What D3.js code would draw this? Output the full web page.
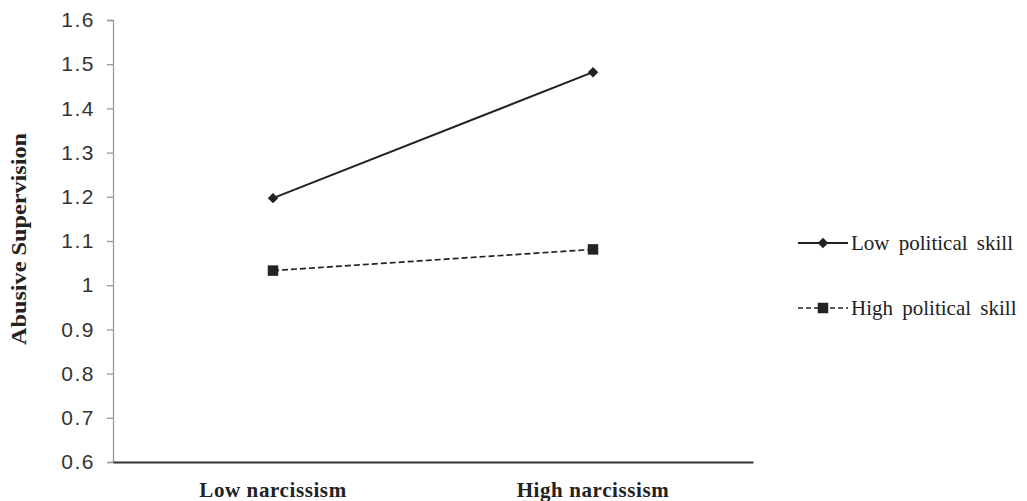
<!DOCTYPE html>
<html>
<head>
<meta charset="utf-8">
<script src="https://cdn.jsdelivr.net/npm/d3@7"></script>
<style>
    body { margin: 0; background: #fff; }
    svg { display: block; }
</style>
</head>
<body>
<div id="chart"></div>
<script>
// данные графика
const categories = ['Low narcissism', 'High narcissism'];
const lowSkill = [1.197, 1.482];
const highSkill = [1.033, 1.081];
const seriesNames = ['Low political skill', 'High political skill'];
const yTicks = [0.6, 0.7, 0.8, 0.9, 1, 1.1, 1.2, 1.3, 1.4, 1.5, 1.6];

const width = 1027, height = 501;
const margin = { left: 113, top: 20, right: 274, bottom: 39 };

const svg = d3.select('#chart').append('svg')
    .attr('width', width)
    .attr('height', height);

const x = d3.scaleBand()
    .domain(categories)
    .range([margin.left, width - margin.right]);

const y = d3.scaleLinear()
    .domain([0.6, 1.6])
    .range([height - margin.bottom, margin.top]);

// ось y
const yAxis = svg.append('g')
    .attr('transform', `translate(${margin.left},0)`)
    .call(d3.axisLeft(y).tickValues(yTicks).tickSize(6).tickPadding(12)
        .tickFormat(d => d3.format('')(+d.toFixed(1))));
yAxis.select('.domain').attr('stroke', '#999').attr('stroke-width', 1.3);
yAxis.selectAll('.tick line').attr('stroke', '#999').attr('stroke-width', 1.3);
yAxis.selectAll('.tick text')
    .attr('fill', '#333')
    .style('font-family', 'Liberation Sans, Arial, sans-serif')
    .style('font-size', '21px')
    .style('letter-spacing', '1.5px');

// ось x
const xAxis = svg.append('g')
    .attr('transform', `translate(0,${height - margin.bottom})`)
    .call(d3.axisBottom(x).tickSize(0).tickPadding(20));
xAxis.select('.domain').attr('stroke', '#333').attr('stroke-width', 2);
xAxis.selectAll('.tick text')
    .attr('fill', '#222')
    .style('font-family', 'Liberation Serif, Times New Roman, serif')
    .style('font-weight', 'bold')
    .style('font-size', '21px')
    .style('letter-spacing', '0.6px');

// подпись оси y
svg.append('text')
    .attr('transform', `translate(26,239) rotate(-90)`)
    .attr('text-anchor', 'middle')
    .attr('fill', '#222')
    .attr('textLength', 212)
    .attr('lengthAdjust', 'spacingAndGlyphs')
    .style('font-family', 'Liberation Serif, Times New Roman, serif')
    .style('font-weight', 'bold')
    .style('font-size', '21px')
    .text('Abusive Supervision');

const cx = d => x(d) + x.bandwidth() / 2;
const line = d3.line()
    .x((d, i) => cx(categories[i]))
    .y(d => y(d));

const diamond = d3.symbol().type(d3.symbolSquare).size(55);
const square = d3.symbol().type(d3.symbolSquare).size(110);

// линия Low political skill
svg.append('path')
    .datum(lowSkill)
    .attr('fill', 'none')
    .attr('stroke', '#222')
    .attr('stroke-width', 2)
    .attr('d', line);
svg.selectAll('.mk1')
    .data(lowSkill)
    .enter()
    .append('path')
    .attr('class', 'mk1')
    .attr('transform', (d, i) => `translate(${cx(categories[i])},${y(d)}) rotate(45)`)
    .attr('d', diamond)
    .attr('fill', '#222');

// линия High political skill
svg.append('path')
    .datum(highSkill)
    .attr('fill', 'none')
    .attr('stroke', '#222')
    .attr('stroke-width', 1.7)
    .attr('stroke-dasharray', '6,3')
    .attr('d', line);
svg.selectAll('.mk2')
    .data(highSkill)
    .enter()
    .append('path')
    .attr('class', 'mk2')
    .attr('transform', (d, i) => `translate(${cx(categories[i])},${y(d)})`)
    .attr('d', square)
    .attr('fill', '#222');

// легенда
const legend = svg.append('g').attr('transform', 'translate(798,0)');
const rows = [
    { name: seriesNames[0], y: 243, dash: null, sym: diamond, rot: 45, sw: 2 },
    { name: seriesNames[1], y: 308, dash: '5,3', sym: square, rot: 0, sw: 1.7 }
];
rows.forEach(r => {
    legend.append('line')
        .attr('x1', 0).attr('x2', 50)
        .attr('y1', r.y).attr('y2', r.y)
        .attr('stroke', '#222')
        .attr('stroke-width', r.sw)
        .attr('stroke-dasharray', r.dash);
    legend.append('path')
        .attr('transform', `translate(25,${r.y}) rotate(${r.rot})`)
        .attr('d', r.sym)
        .attr('fill', '#222');
    legend.append('text')
        .attr('x', 53)
        .attr('y', r.y + 7)
        .attr('fill', '#222')
        .style('font-family', 'Liberation Serif, Times New Roman, serif')
        .style('font-size', '21px')
        .style('word-spacing', '4px')
        .text(r.name);
});
</script>
</body>
</html>
